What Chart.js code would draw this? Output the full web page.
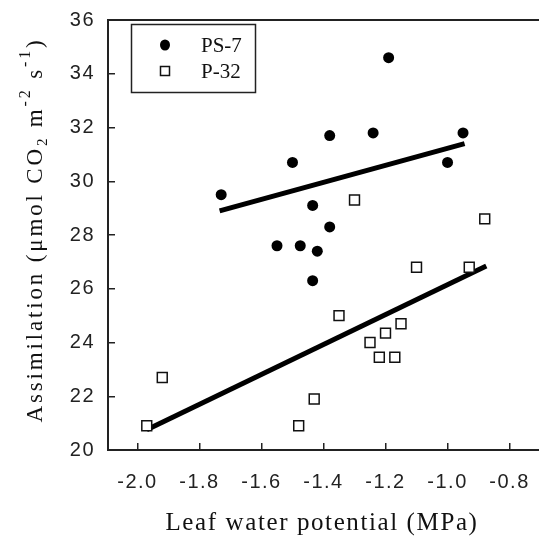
<!DOCTYPE html>
<html>
<head>
<meta charset="utf-8">
<title>Assimilation vs leaf water potential</title>
<script src="https://cdn.jsdelivr.net/npm/chart.js@4/dist/chart.umd.min.js"></script>
<style>
    html, body { margin: 0; padding: 0; background: #fff; overflow: hidden; }
    #wrap { width: 539px; height: 537px; }
</style>
</head>
<body>
<div id="wrap"><canvas id="assim" width="539" height="537"></canvas></div>
<script>
// PS-7 (filled circles)
const ps7Potential = [-1.19, -1.38, -1.24, -0.95, -1.50, -1.00, -1.73, -1.435, -1.38, -1.55, -1.475, -1.42, -1.435];
const ps7Assimilation = [34.6, 31.7, 31.8, 31.8, 30.7, 30.7, 29.5, 29.1, 28.3, 27.6, 27.6, 27.4, 26.3];
// P-32 (open squares)
const p32Potential = [-1.30, -0.88, -1.10, -0.93, -1.35, -1.15, -1.20, -1.25, -1.22, -1.17, -1.92, -1.43, -1.48, -1.97];
const p32Assimilation = [29.3, 28.6, 26.8, 26.8, 25.0, 24.7, 24.35, 24.0, 23.45, 23.45, 22.7, 21.9, 20.9, 20.9];
// regression lines (end points)
const ps7FitX = [-1.735, -0.945];
const ps7FitY = [28.9, 31.4];
const p32FitX = [-1.97, -0.875];
const p32FitY = [20.75, 26.85];

const xTicks = [-2.0, -1.8, -1.6, -1.4, -1.2, -1.0, -0.8];
const yTicks = [20, 22, 24, 26, 28, 30, 32, 34, 36];

const xTitle = 'Leaf water potential (MPa)';
const yTitleParts = [
    { t: 'Assimilation (\u03bcmol CO', k: 1, dy: 0 },
    { t: '2', k: 0.65, dy: 5 },
    { t: ' m', k: 1, dy: 0 },
    { t: '-2', k: 0.7, dy: -12 },
    { t: ' s', k: 1, dy: 0 },
    { t: '-1', k: 0.7, dy: -12 },
    { t: ')', k: 1, dy: 0 }
];

const serif = '"Liberation Serif", "Times New Roman", serif';
const sans = '"Liberation Sans", Arial, sans-serif';

function pairs(xs, ys) {
    return xs.map((x, i) => ({ x: x, y: ys[i] }));
}

// the picture's text runs a bit wide, so open it up with letter spacing
function spacingFor(ctx, text, target) {
    ctx.letterSpacing = '0px';
    const w = ctx.measureText(text).width;
    return Math.max(0, (target - w) / text.length);
}

function noPadding(s) {
    s.paddingLeft = 0;
    s.paddingRight = 0;
    s.paddingTop = 0;
    s.paddingBottom = 0;
}

const framePlugin = {
    id: 'frame',
    beforeDraw(chart) {
        chart.ctx.letterSpacing = '1.5px'; // tick labels
    },
    beforeDatasetsDraw(chart) {
        chart.ctx.letterSpacing = '0px';
        const ctx = chart.ctx, a = chart.chartArea;
        ctx.save();
        ctx.strokeStyle = '#222';
        ctx.lineWidth = 2;
        ctx.beginPath();
        ctx.moveTo(a.left, a.top);
        ctx.lineTo(a.right, a.top);
        ctx.stroke();
        ctx.restore();
    },
    afterDraw(chart) {
        const ctx = chart.ctx;
        ctx.save();
        ctx.fillStyle = '#111';

        // x title
        ctx.font = '25px ' + serif;
        let sp = spacingFor(ctx, xTitle, 313);
        ctx.letterSpacing = sp + 'px';
        ctx.textAlign = 'left';
        ctx.textBaseline = 'alphabetic';
        const xw = ctx.measureText(xTitle).width;
        ctx.fillText(xTitle, 322 - xw / 2, 530);

        // y title with sub/superscripts
        const base = 23;
        let natural = 0, chars = 0;
        ctx.letterSpacing = '0px';
        yTitleParts.forEach(p => {
            ctx.font = Math.round(base * p.k) + 'px ' + serif;
            natural += ctx.measureText(p.t).width;
            chars += p.t.length;
        });
        sp = Math.max(0, (385 - natural) / chars);
        ctx.save();
        ctx.translate(41.7, 230);
        ctx.rotate(-Math.PI / 2);
        let pos = -385 / 2;
        ctx.letterSpacing = sp + 'px';
        yTitleParts.forEach(p => {
            ctx.font = Math.round(base * p.k) + 'px ' + serif;
            ctx.fillText(p.t, pos, p.dy);
            pos += ctx.measureText(p.t).width;
        });
        ctx.restore();

        // legend box
        ctx.letterSpacing = '0px';
        ctx.strokeStyle = '#222';
        ctx.lineWidth = 1.5;
        ctx.strokeRect(131.5, 24.5, 124, 68);
        const rows = [
            { ds: chart.data.datasets[0], y: 45 },
            { ds: chart.data.datasets[1], y: 71 }
        ];
        ctx.font = '21px ' + serif;
        ctx.textBaseline = 'middle';
        rows.forEach(r => {
            ctx.fillStyle = r.ds.backgroundColor;
            ctx.strokeStyle = r.ds.borderColor;
            ctx.lineWidth = r.ds.borderWidth;
            ctx.beginPath();
            if (r.ds.pointStyle === 'rect') {
                ctx.rect(160.5, r.y - 4.5, 9, 9);
                ctx.fill();
                ctx.stroke();
            } else {
                ctx.ellipse(165, r.y, 5, 5.5, 0, 0, Math.PI * 2);
                ctx.fill();
            }
            ctx.fillStyle = '#111';
            ctx.fillText(r.ds.label, 201, r.y + 1);
        });
        ctx.restore();
    }
};

const tickFont = { family: sans, size: 20 };

new Chart(document.getElementById('assim').getContext('2d'), {
    type: 'scatter',
    data: {
        datasets: [{
            label: 'PS-7',
            data: pairs(ps7Potential, ps7Assimilation),
            pointStyle: 'circle',
            pointRadius: 5.5,
            backgroundColor: '#000',
            borderColor: '#000',
            borderWidth: 0
        }, {
            label: 'P-32',
            data: pairs(p32Potential, p32Assimilation),
            pointStyle: 'rect',
            pointRadius: 7,
            backgroundColor: '#fff',
            borderColor: '#111',
            borderWidth: 1.5
        }, {
            label: 'PS-7 fit',
            data: pairs(ps7FitX, ps7FitY),
            showLine: true,
            borderColor: '#000',
            borderWidth: 5,
            pointRadius: 0
        }, {
            label: 'P-32 fit',
            data: pairs(p32FitX, p32FitY),
            showLine: true,
            borderColor: '#000',
            borderWidth: 5,
            pointRadius: 0
        }]
    },
    options: {
        responsive: false,
        animation: false,
        layout: { autoPadding: false, padding: { top: 20, right: 0, left: 0, bottom: 0 } },
        plugins: {
            legend: { display: false },
            tooltip: { enabled: false }
        },
        scales: {
            x: {
                type: 'linear',
                min: -2.095,
                max: -0.705,
                afterBuildTicks: s => { s.ticks = xTicks.map(v => ({ value: v })); },
                afterFit: s => { s.height = 87; noPadding(s); },
                grid: { drawOnChartArea: false, tickLength: -7, color: '#222', lineWidth: 1.5 },
                border: { color: '#222', width: 2 },
                ticks: { padding: 27, color: '#222', font: tickFont, callback: v => v.toFixed(1) }
            },
            y: {
                type: 'linear',
                min: 20,
                max: 36,
                afterBuildTicks: s => { s.ticks = yTicks.map(v => ({ value: v })); },
                afterFit: s => { s.width = 108; noPadding(s); },
                grid: { drawOnChartArea: false, tickLength: -7, color: '#222', lineWidth: 1.5 },
                border: { color: '#222', width: 2 },
                ticks: { padding: 20, color: '#222', font: tickFont }
            }
        }
    },
    plugins: [framePlugin]
});
</script>
</body>
</html>
